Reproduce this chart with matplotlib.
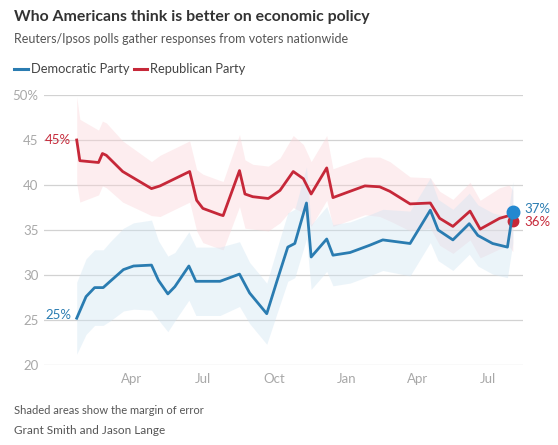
import numpy as np
import pandas as pd
import matplotlib
matplotlib.use("Agg")
import matplotlib.pyplot as plt
from matplotlib.lines import Line2D

plt.rcParams['font.family'] = ['Lato', 'DejaVu Sans']

# Republican Party line (poll dates, share %, margin of error)
rep_dates = ["2023-01-20", "2023-01-24", "2023-02-17", "2023-02-22", "2023-02-27",
             "2023-03-20", "2023-04-26", "2023-05-07", "2023-06-14", "2023-06-23",
             "2023-07-01", "2023-07-23", "2023-07-27", "2023-08-17", "2023-08-24",
             "2023-09-03", "2023-09-23", "2023-10-08", "2023-10-25", "2023-11-07",
             "2023-11-17", "2023-12-07", "2023-12-15", "2024-01-06", "2024-01-25",
             "2024-02-13", "2024-02-26", "2024-03-23", "2024-04-18", "2024-04-30",
             "2024-05-17", "2024-06-08", "2024-06-21", "2024-07-16", "2024-07-28",
             "2024-08-02"]
rep_vals = [45.0, 42.7, 42.5, 43.5, 43.3, 41.5, 39.6, 39.9, 41.5, 38.3,
            37.4, 36.7, 36.6, 41.6, 39.0, 38.7, 38.5, 39.4, 41.5, 40.7,
            39.0, 41.9, 38.6, 39.3, 39.9, 39.8, 39.3, 37.9, 38.0, 36.3,
            35.4, 37.1, 35.1, 36.3, 36.6, 36.0]
rep_moe = [4.8, 4.6, 3.6, 3.6, 3.6, 3.4, 3.0, 3.4, 3.4, 3.4,
           3.8, 3.8, 3.8, 4.0, 3.8, 3.6, 3.6, 3.6, 4.0, 3.8,
           3.6, 3.6, 3.2, 3.2, 3.2, 3.3, 3.3, 3.0, 2.8, 3.0,
           3.0, 3.2, 3.2, 3.4, 3.4, 3.4]

# Democratic Party line
dem_dates = ["2023-01-20", "2023-02-01", "2023-02-12", "2023-02-23", "2023-03-04",
             "2023-03-21", "2023-04-03", "2023-04-26", "2023-05-05", "2023-05-17",
             "2023-05-26", "2023-06-13", "2023-06-22", "2023-07-23", "2023-08-17",
             "2023-08-30", "2023-09-21", "2023-10-04", "2023-10-18", "2023-10-27",
             "2023-11-11", "2023-11-17", "2023-12-07", "2023-12-15", "2024-01-06",
             "2024-01-31", "2024-02-17", "2024-03-23", "2024-04-18", "2024-04-28",
             "2024-05-17", "2024-06-07", "2024-06-18", "2024-07-07", "2024-07-26",
             "2024-08-02"]
dem_vals = [25.2, 27.6, 28.6, 28.6, 29.3, 30.6, 31.0, 31.1, 29.4, 27.9,
            28.7, 31.0, 29.3, 29.3, 30.1, 28.0, 25.7, 29.3, 33.1, 33.5,
            38.0, 32.0, 34.0, 32.2, 32.5, 33.3, 33.9, 33.5, 37.2, 35.0,
            33.9, 35.7, 34.4, 33.5, 33.1, 37.0]
dem_moe = [4.0, 4.2, 4.2, 4.2, 4.4, 4.6, 4.8, 5.0, 4.4, 4.2,
           3.8, 3.8, 3.8, 3.8, 3.6, 3.4, 3.4, 3.6, 3.8, 3.8,
           4.0, 3.6, 3.6, 3.4, 3.4, 3.4, 3.4, 3.6, 3.6, 3.4,
           3.4, 3.4, 3.4, 3.4, 3.4, 3.4]

y_ticks = [20, 25, 30, 35, 40, 45, 50]
y_labels = ["20", "25", "30", "35", "40", "45", "50%"]
x_ticks = ["2023-04-01", "2023-07-01", "2023-10-01", "2024-01-01", "2024-04-01", "2024-07-01"]
x_labels = ["Apr", "Jul", "Oct", "Jan", "Apr", "Jul"]

red = "#c62839"
blue = "#2a7cb1"
grid_c = "#d2d2d2"
tick_c = "#a8a8a8"

rd = pd.to_datetime(rep_dates)
dd = pd.to_datetime(dem_dates)
rv = np.array(rep_vals)
dv = np.array(dem_vals)

fig = plt.figure(figsize=(5.58, 4.45), dpi=100)
ax = fig.add_axes([44/558, 1-365/445, (523-44)/558, (365-95)/445])

ax.fill_between(rd, rv - np.array(rep_moe), rv + np.array(rep_moe),
                color="#fbd3d7", alpha=0.4, lw=0)
ax.fill_between(dd, dv - np.array(dem_moe), dv + np.array(dem_moe),
                color="#cfe4f2", alpha=0.4, lw=0)

ax.plot(rd, rv, color=red, lw=2.0, solid_joinstyle="round", zorder=3)
ax.plot(rd[-1], rv[-1], "o", color=red, ms=7.5, zorder=3)
ax.plot(dd, dv, color=blue, lw=2.0, solid_joinstyle="round", zorder=4)
ax.plot(dd[-1], dv[-1], "o", color="#2388d0", ms=9, zorder=5)

ax.set_ylim(20, 50)
ax.set_xlim(pd.Timestamp("2022-12-09"), pd.Timestamp("2024-08-15"))
ax.set_yticks(y_ticks)
ax.set_yticklabels(y_labels)
ax.set_xticks(pd.to_datetime(x_ticks))
ax.set_xticklabels(x_labels)
ax.yaxis.grid(True, color=grid_c, lw=0.9)
ax.set_axisbelow(True)
for s in ax.spines.values():
    s.set_visible(False)
ax.tick_params(axis="both", length=0, colors=tick_c, labelsize=9.5)
ax.tick_params(axis="y", pad=4)
ax.tick_params(axis="x", pad=6)

# value labels at the line ends
ax.annotate("45%", (rd[0], rv[0]), xytext=(-4, 0), textcoords="offset points",
            ha="right", va="center", color=red, fontsize=9.5)
ax.annotate("25%", (dd[0], dv[0]), xytext=(-4, 2), textcoords="offset points",
            ha="right", va="center", color=blue, fontsize=9.5)
ax.annotate("37%", (dd[-1], dv[-1]), xytext=(8, 2), textcoords="offset points",
            ha="left", va="center", color=blue, fontsize=9.5)
ax.annotate("36%", (rd[-1], rv[-1]), xytext=(8, -1), textcoords="offset points",
            ha="left", va="center", color=red, fontsize=9.5)

# titles
fig.text(14/558, 1-17/445, "Who Americans think is better on economic policy",
         fontsize=11.4, fontweight="bold", color="#333333", va="center")
fig.text(14/558, 1-39/445, "Reuters/Ipsos polls gather responses from voters nationwide",
         fontsize=9.0, color="#555555", va="center")

# legend
fig.add_artist(Line2D([14/558, 28/558], [1-69/445, 1-69/445], color=blue, lw=2.2))
fig.text(31/558, 1-69/445, "Democratic Party", fontsize=9.3, color="#444444", va="center")
fig.add_artist(Line2D([134/558, 147/558], [1-69/445, 1-69/445], color=red, lw=2.2))
fig.text(150/558, 1-69/445, "Republican Party", fontsize=9.3, color="#444444", va="center")

# footer
fig.text(14/558, 1-410/445, "Shaded areas show the margin of error",
         fontsize=8, color="#555555", va="center")
fig.text(14/558, 1-430/445, "Grant Smith and Jason Lange",
         fontsize=8.5, color="#555555", va="center")

fig.savefig("out.png", dpi=100)
